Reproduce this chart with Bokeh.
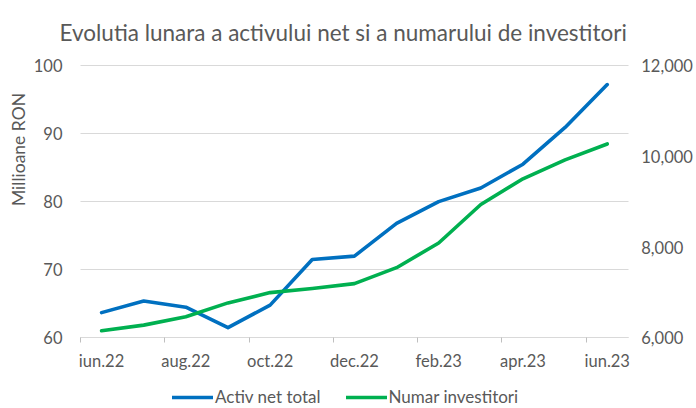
import math
from bokeh.plotting import figure
from bokeh.models import (Range1d, LinearAxis, FixedTicker, NumeralTickFormatter,
                          Legend, Label)
from bokeh.embed import file_html
from bokeh.resources import INLINE

months = ["iun.22", "iul.22", "aug.22", "sep.22", "oct.22", "nov.22", "dec.22",
          "ian.23", "feb.23", "mar.23", "apr.23", "mai.23", "iun.23"]
activ_net = [63.7, 65.4, 64.5, 61.5, 64.8, 71.5, 72.0, 76.8, 80.0, 82.0, 85.5, 90.9, 97.2]
investitori = [6154, 6279, 6462, 6769, 6996, 7085, 7194, 7545, 8088, 8937, 9503, 9920, 10271]
left_ticks = [60, 70, 80, 90, 100]
right_ticks = [6000, 8000, 10000, 12000]

x = list(range(len(months)))
label_idx = x[::2]
boundaries = [i - 0.5 for i in x[::2]]

FONT = "Lato"
TXT = "#595959"
FS = "16.5px"

W, H = 696, 408
# plot-area geometry in page pixels
FL, FR_PX = 80, 627.8          # left/right edge of the data area
FT, FB = 65, 337.3             # top (100) / bottom (60) of the data area
xa0, xa1 = -0.5, len(months) - 0.5
ya0, ya1 = left_ticks[0], left_ticks[-1]
ra0, ra1 = right_ticks[0], right_ticks[-1]
pxx = (FR_PX - FL) / (xa1 - xa0)
pxy = (FB - FT) / (ya1 - ya0)
x_lo = xa0 - FL / pxx
x_hi = xa1 + (W - FR_PX) / pxx
y_lo = ya0 - (H - FB) / pxy
y_hi = ya1 + FT / pxy
k = (ra1 - ra0) / (ya1 - ya0)
r_lo = ra0 - (ya0 - y_lo) * k
r_hi = ra1 + (y_hi - ya1) * k

p = figure(width=W, height=H, x_range=Range1d(x_lo, x_hi), y_range=Range1d(y_lo, y_hi),
           output_backend="svg", toolbar_location=None,
           min_border_left=0, min_border_right=0, min_border_top=0, min_border_bottom=0)
p.outline_line_color = None
p.title.visible = False
p.extra_y_ranges = {"right": Range1d(r_lo, r_hi)}

# left axis
ya = p.yaxis[0]
ya.fixed_location = xa0
ya.bounds = (ya0, ya1)
ya.ticker = FixedTicker(ticks=left_ticks)
ya.axis_line_color = None
ya.major_tick_line_color = None
ya.minor_tick_line_color = None
ya.major_tick_out = 0
ya.major_tick_in = 0
ya.major_label_standoff = 18
ya.major_label_text_font = FONT
ya.major_label_text_font_size = FS
ya.major_label_text_color = TXT

# right axis
ra = LinearAxis(y_range_name="right", ticker=FixedTicker(ticks=right_ticks),
                formatter=NumeralTickFormatter(format="0,0"))
ra.fixed_location = xa1
ra.bounds = (ra0, ra1)
ra.axis_line_color = None
ra.major_tick_line_color = None
ra.minor_tick_line_color = None
ra.major_tick_out = 0
ra.major_tick_in = 0
ra.major_label_standoff = 13
ra.major_label_text_font = FONT
ra.major_label_text_font_size = FS
ra.major_label_text_color = TXT
p.add_layout(ra, "right")

# x axis
xa = p.xaxis[0]
xa.fixed_location = ya0
xa.bounds = (xa0, xa1)
xa.ticker = FixedTicker(ticks=label_idx, minor_ticks=boundaries)
xa.major_label_overrides = {i: months[i] for i in label_idx}
xa.major_tick_line_color = None
xa.major_tick_out = 0
xa.major_tick_in = 0
xa.minor_tick_line_color = "#bfbfbf"
xa.minor_tick_out = 5
xa.minor_tick_in = 0
xa.axis_line_color = "#d9d9d9"
xa.major_label_standoff = 8
xa.major_label_text_font = FONT
xa.major_label_text_font_size = FS
xa.major_label_text_color = TXT

p.xgrid.visible = False
p.ygrid.ticker = FixedTicker(ticks=left_ticks)
p.ygrid.grid_line_color = "#d9d9d9"
p.ygrid.cross_bounds = (xa0, xa1)

r1 = p.line(x, activ_net, line_color="#0070C0", line_width=3.6, line_cap="round", line_join="round")
r2 = p.line(x, investitori, y_range_name="right", line_color="#00B050", line_width=3.6,
            line_cap="round", line_join="round")

title = Label(x=x_lo + 59 / pxx, y=y_hi - 32 / pxy,
              text="Evolutia lunara a activului net si a numarului  de investitori",
              text_align="left", text_baseline="alphabetic", text_font=FONT,
              text_font_size="22.5px", text_color=TXT)
p.add_layout(title)

ylab = Label(x=x_lo + 18 / pxx, y=y_hi - 149 / pxy, text="Millioane RON", angle=math.pi / 2,
             text_align="center", text_baseline="middle", text_font=FONT,
             text_font_size="17.5px", text_color=TXT)
p.add_layout(ylab)

legend = Legend(items=[("Activ net total", [r1]), ("Numar investitori", [r2])],
                orientation="horizontal", location=(172, 1), glyph_width=41,
                glyph_height=14, label_height=14,
                label_standoff=2, spacing=25, border_line_color=None,
                background_fill_alpha=0, label_text_font=FONT, label_text_font_size="17px",
                label_text_color=TXT, padding=0, margin=0)
p.add_layout(legend)

open("out.html", "w").write(file_html(p, INLINE))
